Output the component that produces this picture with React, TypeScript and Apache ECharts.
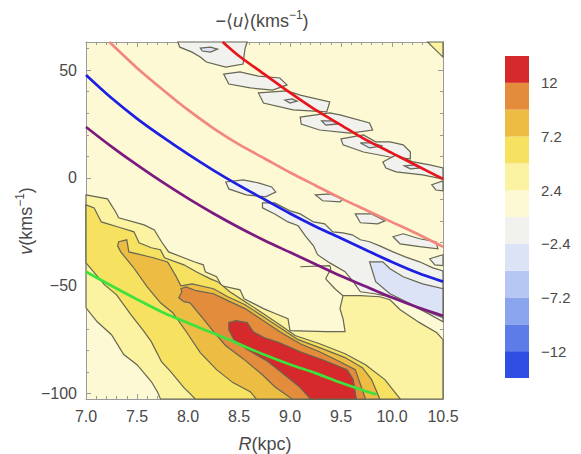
import React, { useEffect, useRef } from 'react';
import * as echarts from 'echarts';

// ---------- axis ranges / ticks ----------
const X_MIN = 7;
const X_MAX = 10.5;
const X_STEP = 0.5;
const Y_MIN = -102.5;
const Y_MAX = 63;
const yMajorTicks = [-100, -50, 0, 50];
const yMinorTicks = [-100, -90, -80, -70, -60, -50, -40, -30, -20, -10, 0, 10, 20, 30, 40, 50, 60];
const barLabels = [12, 7.2, 2.4, -2.4, -7.2, -12];

// ---------- contour levels ----------
const levelBounds = [-14.4, -12, -9.6, -7.2, -4.8, -2.4, 0, 2.4, 4.8, 7.2, 9.6, 12, 14.4];
const levelColors = [
  '#2f4fe4', '#5d7ce8', '#8ba4ee', '#b6c7f3', '#dde3f6', '#f1f2ee',
  '#fcf9d4', '#fbf3a2', '#f6e160', '#ecbd42', '#e38c3c', '#d6292b',
];

// ---------- contour regions (R kpc, v km/s) ----------
const regionLevel24 = [
  [7.0, -7.9], [7.21, -9.7], [7.29, -15.7], [7.32, -18.5], [7.57, -21.8], [7.67, -24.1], [7.74, -29.6],
  [7.81, -34.3], [8.06, -38.9], [8.15, -40.3], [8.17, -43.5], [8.28, -45.8], [8.33, -50.0], [8.51, -51.9],
  [8.55, -56.0], [8.74, -60.6], [8.86, -63.0], [8.98, -65.3], [9.0, -70.8], [9.35, -71.3], [9.54, -71.3],
  [9.52, -65.3], [9.49, -60.6], [9.52, -54.6], [9.69, -54.6], [9.88, -55.1], [9.98, -56.5], [10.08, -61.1],
  [10.27, -67.1], [10.44, -71.8], [10.5, -75.0], [10.5, -102.5], [7.73, -102.5], [7.7, -99.1], [7.64, -94.4],
  [7.5, -86.6], [7.37, -81.9], [7.25, -72.7], [7.11, -66.7], [7.0, -60.2],
];
const cornerLevel24 = [[10.35, 63], [10.4, 60.6], [10.45, 58.3], [10.5, 56.0], [10.5, 63]];
const regionLevel48 = [
  [7.0, -12.5], [7.08, -13.9], [7.15, -20.4], [7.34, -23.1], [7.47, -25.0], [7.52, -30.1], [7.64, -32.4],
  [7.73, -33.3], [7.77, -37.0], [7.96, -40.3], [8.08, -43.5], [8.22, -46.8], [8.29, -48.1], [8.41, -52.8],
  [8.56, -57.4], [8.74, -63.0], [8.9, -68.1], [9.05, -73.1], [9.29, -76.9], [9.54, -81.5], [9.74, -86.6],
  [9.93, -93.5], [10.08, -102.5], [8.07, -102.5], [8.03, -100.5], [7.96, -97.2], [7.83, -89.8], [7.74, -85.2],
  [7.64, -75.9], [7.57, -71.3], [7.44, -63.4], [7.3, -54.2], [7.18, -49.5], [7.0, -39.4],
];
const regionLevel72 = [
  [7.32, -29.6], [7.4, -28.7], [7.42, -34.3], [7.66, -37.0], [7.8, -39.0], [7.88, -45.4], [7.93, -50.0],
  [8.04, -49.1], [8.25, -51.4], [8.39, -55.1], [8.56, -58.8], [8.74, -64.4], [8.9, -69.4], [9.08, -75.0],
  [9.29, -78.7], [9.54, -83.3], [9.71, -88.0], [9.8, -93.5], [9.88, -102.5], [8.67, -102.5], [8.61, -99.1],
  [8.44, -94.9], [8.28, -88.9], [8.12, -81.0], [7.99, -71.8], [7.85, -62.5], [7.73, -57.9], [7.6, -50.5],
  [7.46, -41.2], [7.34, -34.3], [7.31, -31.5],
];
const regionLevel96 = [
  [7.93, -51.4], [7.98, -50.5], [8.08, -52.3], [8.25, -53.7], [8.39, -56.9], [8.56, -60.6], [8.74, -66.2],
  [8.9, -71.3], [9.1, -76.9], [9.29, -80.6], [9.49, -85.2], [9.64, -88.9], [9.74, -102.5], [9.02, -102.5],
  [8.85, -96.8], [8.74, -91.7], [8.54, -83.8], [8.37, -77.8], [8.25, -71.3], [8.15, -65.3], [8.02, -57.9],
  [7.96, -57.4], [7.91, -55.6], [7.94, -52.8],
];
const regionLevel12 = [
  [8.4, -67.1], [8.47, -66.2], [8.58, -67.1], [8.64, -71.3], [8.75, -74.1], [8.9, -76.4], [9.1, -80.6],
  [9.32, -84.3], [9.56, -88.9], [9.62, -93.5], [9.65, -102.5], [9.2, -102.5], [9.1, -97.2], [8.93, -90.7],
  [8.77, -84.7], [8.58, -79.6], [8.45, -75.0], [8.4, -70.4],
];
// negative (below 0) islands
const islandT1 = [[7.9, 63], [7.92, 60.6], [8.04, 58.3], [8.12, 56.0], [8.18, 53.7], [8.37, 51.4], [8.54, 52.8], [8.55, 56.9], [8.56, 60.2], [8.58, 63]];
const islandT2 = [[8.35, 48.1], [8.51, 49.1], [8.69, 47.2], [8.9, 46.3], [8.97, 43.1], [8.83, 40.7], [8.61, 41.7], [8.4, 43.5]];
const islandT3 = [[8.69, 39.4], [8.97, 40.3], [9.1, 38.4], [9.39, 35.2], [9.36, 30.6], [9.03, 31.5], [8.74, 34.7]];
const islandT4 = [[9.1, 28.2], [9.39, 30.1], [9.49, 29.2], [9.78, 25.5], [9.81, 22.2], [9.59, 20.8], [9.29, 22.2], [9.11, 25.0]];
const islandT5 = [[9.5, 18.1], [9.72, 19.9], [9.84, 16.7], [9.98, 16.7], [10.11, 15.3], [10.18, 12.0], [10.18, 8.8], [9.98, 9.7], [9.72, 12.0], [9.52, 15.3]];
const islandT6 = [[9.91, 7.4], [10.04, 10.6], [10.21, 7.4], [10.37, 6.0], [10.5, 4.6], [10.5, -0.5], [10.3, 1.4], [10.04, 2.8], [9.94, 4.6]];
const islandT7 = [[10.39, -3.2], [10.5, -1.4], [10.5, -6.0], [10.43, -5.6]];
const islandF = [[8.37, -1.9], [8.54, -0.9], [8.69, -2.3], [8.82, -4.2], [8.86, -6.5], [8.76, -8.8], [8.57, -7.9], [8.4, -5.1]];
const islandG = [[9.25, -7.9], [9.39, -7.4], [9.52, -9.7], [9.49, -11.1], [9.32, -10.6]];
const islandH = [[9.64, -16.7], [9.8, -16.7], [9.93, -19.9], [9.86, -21.3], [9.69, -20.8]];
const islandI = [[10.01, -27.3], [10.11, -25.9], [10.27, -28.2], [10.43, -29.6], [10.45, -32.9], [10.27, -31.9], [10.08, -30.6]];
const islandJ = [[10.37, -37.5], [10.5, -35.6], [10.5, -40.7], [10.42, -40.3]];
const bandNegative = [
  [8.73, -11.6], [8.85, -11.6], [9.0, -15.3], [9.1, -16.7], [9.23, -20.4], [9.34, -21.3], [9.42, -25.0],
  [9.52, -25.5], [9.61, -26.4], [9.69, -28.7], [9.78, -29.6], [9.88, -31.5], [10.01, -34.3], [10.13, -36.6],
  [10.27, -38.9], [10.4, -41.7], [10.5, -43.1], [10.5, -66.7], [10.32, -62.0], [10.18, -58.8], [10.03, -55.6],
  [9.83, -53.7], [9.69, -52.8], [9.62, -48.1], [9.54, -43.5], [9.39, -39.4], [9.27, -35.6], [9.23, -31.5],
  [9.15, -26.9], [9.08, -22.2], [8.98, -20.4], [8.85, -16.7], [8.73, -13.9],
];
const bandBelow24 = [
  [9.78, -38.9], [9.91, -38.9], [9.98, -42.1], [10.11, -45.8], [10.3, -49.1], [10.5, -51.4], [10.5, -64.8],
  [10.27, -60.6], [10.14, -57.4], [9.98, -53.7], [9.84, -48.1], [9.81, -43.5],
];
const spotT1 = [[8.12, 60.2], [8.22, 60.6], [8.29, 59.7], [8.22, 58.3], [8.14, 58.8]];
const spotT3 = [[8.95, 36.1], [9.02, 36.6], [9.07, 35.6], [9.0, 34.7]];
const spotT4 = [[9.31, 26.4], [9.42, 26.4], [9.47, 25.0], [9.35, 24.5]];
const spotT5 = [[9.69, 16.2], [9.8, 16.2], [9.91, 14.8], [9.78, 13.9]];
const spotT6 = [[10.12, 5.6], [10.22, 6.0], [10.27, 4.6], [10.18, 4.2]];
const bayTopLine = [[9.1, -41.2], [9.39, -40.7], [9.4, -42.1], [9.35, -46.8], [9.44, -51.4], [9.52, -54.6]];

// ---------- overlaid curves ----------
const redCurve = [[8.34, 63], [8.5, 56.5], [8.75, 48], [9.0, 39.5], [9.25, 31.5], [9.5, 24.5], [9.75, 17.5], [10.0, 11.5], [10.25, 5.5], [10.5, -0.5]];
const pinkCurve = [[7.23, 63], [7.5, 51], [7.75, 41], [8.0, 31.5], [8.25, 23], [8.5, 15.5], [8.75, 9], [9.0, 2.5], [9.25, -3.5], [9.5, -9.5], [9.75, -15], [10.0, -20.5], [10.25, -26], [10.5, -31.9]];
const blueCurve = [[7.0, 47.7], [7.25, 37], [7.5, 27.5], [7.75, 19], [8.0, 11], [8.25, 3.5], [8.5, -3.5], [8.75, -10], [9.0, -16.5], [9.25, -22.5], [9.5, -28], [9.75, -33.5], [10.0, -39], [10.25, -44], [10.5, -48.1]];
const purpleCurve = [[7.0, 23.6], [7.25, 14.5], [7.5, 6], [7.75, -2], [8.0, -9.5], [8.25, -16.5], [8.5, -23], [8.75, -29], [9.0, -34.5], [9.25, -40], [9.5, -45.5], [9.75, -50.5], [10.0, -55.5], [10.25, -60], [10.5, -63.9]];
const greenCurve = [[7.0, -43.5], [7.25, -50], [7.5, -56.3], [7.75, -62.3], [8.0, -67.3], [8.25, -72], [8.5, -77], [8.75, -82], [9.0, -86.5], [9.25, -90.5], [9.5, -95], [9.75, -99], [9.85, -100.3]];

const LINE_COLOR = '#666652';
const TEXT_COLOR = '#4a4a4a';
const AXIS_COLOR = '#9a9a9a';
const FONT = 'Liberation Sans, Arial, sans-serif';

const regions = [
  { pts: regionLevel24, level: 7 },
  { pts: cornerLevel24, level: 7 },
  { pts: regionLevel48, level: 8 },
  { pts: regionLevel72, level: 9 },
  { pts: regionLevel96, level: 10 },
  { pts: regionLevel12, level: 11 },
  { pts: islandT1, level: 5 },
  { pts: islandT2, level: 5 },
  { pts: islandT3, level: 5 },
  { pts: islandT4, level: 5 },
  { pts: islandT5, level: 5 },
  { pts: islandT6, level: 5 },
  { pts: islandT7, level: 5 },
  { pts: islandF, level: 5 },
  { pts: islandG, level: 5 },
  { pts: islandH, level: 5 },
  { pts: islandI, level: 5 },
  { pts: islandJ, level: 5 },
  { pts: bandNegative, level: 5 },
  { pts: bandBelow24, level: 4 },
  { pts: spotT1, level: 4 },
  { pts: spotT3, level: 4 },
  { pts: spotT4, level: 4 },
  { pts: spotT5, level: 4 },
  { pts: spotT6, level: 4 },
];

const fmtNum = (v: number) => (v < 0 ? '\u2212' + Math.abs(v) : String(v));

export default function App() {
  const ref = useRef<HTMLDivElement>(null);
  useEffect(() => {
    if (!ref.current) return;
    const chart = echarts.init(ref.current, null, { renderer: 'svg' });
    const tickLine = { lineStyle: { color: AXIS_COLOR, width: 1 } };
    const labelStyle = { color: TEXT_COLOR, fontSize: 16, fontFamily: FONT };
    const curve = (data: number[][], color: string) => ({
      type: 'line',
      xAxisIndex: 0,
      yAxisIndex: 0,
      data,
      smooth: 0.3,
      showSymbol: false,
      symbol: 'none',
      silent: true,
      clip: true,
      z: 5,
      lineStyle: { color, width: 2.7 },
    });
    const richText = {
      a: { fontSize: 18, lineHeight: 24, fill: TEXT_COLOR, fontFamily: FONT },
      i: { fontSize: 18, lineHeight: 24, fill: TEXT_COLOR, fontFamily: FONT, fontStyle: 'italic' },
      s: { fontSize: 12, lineHeight: 13, fill: TEXT_COLOR, fontFamily: FONT, verticalAlign: 'top' },
    };
    const option: any = {
      animation: false,
      grid: [
        { left: 86, top: 42, width: 357, height: 357, show: true, backgroundColor: levelColors[6], borderWidth: 0 },
        { left: 505, top: 56, width: 24, height: 322 },
      ],
      xAxis: [
        {
          gridIndex: 0, type: 'value', min: X_MIN, max: X_MAX, interval: X_STEP, position: 'bottom',
          axisLine: { show: true, onZero: false, lineStyle: { color: AXIS_COLOR } },
          axisTick: { show: true, inside: true, length: 5, ...tickLine },
          minorTick: { show: true, splitNumber: 5, length: 3, ...tickLine },
          axisLabel: { ...labelStyle, margin: 9, formatter: (v: number) => v.toFixed(1) },
          splitLine: { show: false },
        },
        {
          gridIndex: 0, type: 'value', min: X_MIN, max: X_MAX, interval: X_STEP, position: 'top',
          axisLine: { show: true, onZero: false, lineStyle: { color: AXIS_COLOR } },
          axisTick: { show: true, inside: true, length: 5, ...tickLine },
          minorTick: { show: true, splitNumber: 5, length: 3, ...tickLine },
          axisLabel: { show: false },
          splitLine: { show: false },
        },
        { gridIndex: 1, type: 'value', min: 0, max: 1, show: false },
      ],
      yAxis: [
        {
          gridIndex: 0, type: 'value', min: Y_MIN, max: Y_MAX, position: 'left',
          axisLine: { show: true, onZero: false, lineStyle: { color: AXIS_COLOR } },
          axisTick: { show: true, inside: true, length: 5, customValues: yMajorTicks, ...tickLine },
          axisLabel: { ...labelStyle, margin: 9, customValues: yMajorTicks, formatter: fmtNum },
          splitLine: { show: false },
        },
        {
          gridIndex: 0, type: 'value', min: Y_MIN, max: Y_MAX, position: 'left',
          axisLine: { show: false },
          axisTick: { show: true, inside: true, length: 3, customValues: yMinorTicks, ...tickLine },
          axisLabel: { show: false },
          splitLine: { show: false },
        },
        {
          gridIndex: 0, type: 'value', min: Y_MIN, max: Y_MAX, position: 'right',
          axisLine: { show: true, onZero: false, lineStyle: { color: AXIS_COLOR } },
          axisTick: { show: true, inside: true, length: 5, customValues: yMajorTicks, ...tickLine },
          axisLabel: { show: false },
          splitLine: { show: false },
        },
        {
          gridIndex: 0, type: 'value', min: Y_MIN, max: Y_MAX, position: 'right',
          axisLine: { show: false },
          axisTick: { show: true, inside: true, length: 3, customValues: yMinorTicks, ...tickLine },
          axisLabel: { show: false },
          splitLine: { show: false },
        },
        {
          gridIndex: 1, type: 'value', min: levelBounds[0], max: levelBounds[levelBounds.length - 1], position: 'right',
          axisLine: { show: false },
          axisTick: { show: true, length: 4, customValues: barLabels, lineStyle: { color: '#c8c8c8' } },
          axisLabel: { color: TEXT_COLOR, fontSize: 15, fontFamily: FONT, margin: 12, customValues: barLabels, formatter: fmtNum },
          splitLine: { show: false },
        },
      ],
      series: [
        {
          type: 'custom',
          xAxisIndex: 0,
          yAxisIndex: 0,
          silent: true,
          z: 2,
          encode: { x: 0, y: 1 },
          data: regions.map((r, i) => [r.pts[0][0], r.pts[0][1], i]),
          renderItem: (params: any, api: any) => {
            const region = regions[params.dataIndex];
            const points = region.pts.map((p) => api.coord(p));
            return {
              type: 'polygon',
              shape: { points },
              style: { fill: levelColors[region.level], stroke: LINE_COLOR, lineWidth: 1.2 },
            };
          },
        },
        {
          type: 'line',
          xAxisIndex: 0,
          yAxisIndex: 0,
          data: bayTopLine,
          showSymbol: false,
          symbol: 'none',
          silent: true,
          z: 3,
          lineStyle: { color: LINE_COLOR, width: 1.2 },
        },
        curve(pinkCurve, '#f2877d'),
        curve(redCurve, '#e8151c'),
        curve(blueCurve, '#1d1fe2'),
        curve(purpleCurve, '#7c1a7f'),
        curve(greenCurve, '#3ee23c'),
        {
          type: 'custom',
          xAxisIndex: 2,
          yAxisIndex: 4,
          silent: true,
          encode: { x: 0, y: [1, 2] },
          data: levelColors.map((c, i) => [0, levelBounds[i], levelBounds[i + 1], i]),
          renderItem: (params: any, api: any) => {
            const lo = api.value(1);
            const hi = api.value(2);
            const p1 = api.coord([0, hi]);
            const p2 = api.coord([1, lo]);
            return {
              type: 'rect',
              shape: { x: p1[0], y: p1[1], width: p2[0] - p1[0], height: p2[1] - p1[1] },
              style: { fill: levelColors[params.dataIndex] },
            };
          },
        },
      ],
      graphic: [
        {
          type: 'text',
          x: 262,
          y: 21,
          style: {
            text: '{a|\u2212\u27e8}{i|u}{a|\u27e9(kms}{s|\u22121}{a|)}',
            align: 'center',
            verticalAlign: 'middle',
            rich: richText,
          },
        },
        {
          type: 'text',
          x: 26,
          y: 221,
          rotation: Math.PI / 2,
          style: {
            text: '{i|v}{a|(kms}{s|\u22121}{a|)}',
            align: 'center',
            verticalAlign: 'middle',
            rich: richText,
          },
        },
        {
          type: 'text',
          x: 265,
          y: 444,
          style: {
            text: '{i|R}{a|(kpc)}',
            align: 'center',
            verticalAlign: 'middle',
            rich: richText,
          },
        },
      ],
    };
    chart.setOption(option);
    return () => chart.dispose();
  }, []);
  return <div ref={ref} style={{ width: 581, height: 454, position: 'absolute', left: 0, top: 0 }} />;
}
